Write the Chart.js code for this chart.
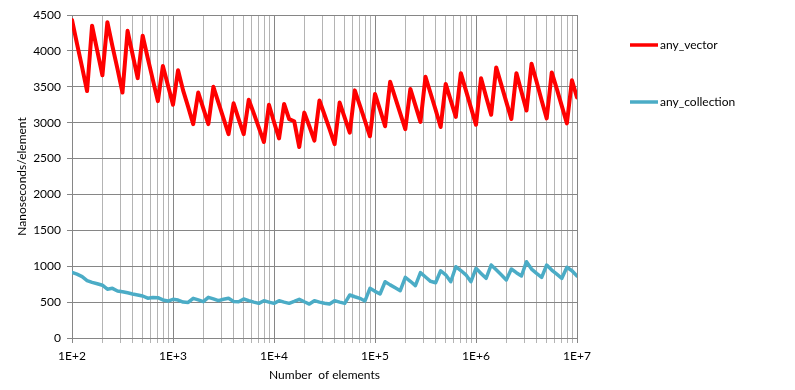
<!DOCTYPE html>
<html>
<head>
<meta charset="utf-8">
<script src="https://cdn.jsdelivr.net/npm/chart.js@4/dist/chart.umd.min.js"></script>
<style>
  html, body { margin: 0; padding: 0; background: #fff; }
  #wrap { width: 795px; height: 390px; position: relative; }
</style>
</head>
<body>
<div id="wrap"><canvas id="c" width="795" height="390"></canvas></div>
<script>
// Number of elements (x categories, 20 per decade)
const elements = [
  100,112,126,141,158,178,200,224,251,282,316,355,398,447,501,562,631,708,794,891,
  1000,1122,1259,1413,1585,1778,1995,2239,2512,2818,3162,3548,3981,4467,5012,5623,6310,7079,7943,8913,
  10000,11220,12589,14125,15849,17783,19953,22387,25119,28184,31623,35481,39811,44668,50119,56234,63096,70795,79433,89125,
  100000,112202,125893,141254,158489,177828,199526,223872,251189,281838,316228,354813,398107,446684,501187,562341,630957,707946,794328,891251,
  1000000,1122018,1258925,1412538,1584893,1778279,1995262,2238721,2511886,2818383,3162278,3548134,3981072,4466836,5011872,5623413,6309573,7079458,7943282,8912509,
  10000000
];

const anyVector = [
  4430,4100,3770,3440,4350,4000,3660,4400,4070,3750,3420,4280,3950,3620,4210,3900,3600,3300,3790,3520,
  3250,3730,3450,3220,2980,3420,3200,2980,3500,3280,3060,2840,3270,3050,2840,3320,3130,2930,2730,3250,
  3010,2780,3260,3050,3020,2660,3140,2950,2750,3310,3110,2910,2700,3280,3070,2860,3450,3240,3030,2810,
  3400,3180,2950,3570,3350,3130,2910,3470,3240,3010,3640,3410,3180,2940,3540,3310,3080,3690,3450,3210,
  2970,3620,3360,3110,3770,3530,3290,3050,3690,3430,3170,3820,3570,3310,3060,3700,3470,3230,2990,3590,
  3350
];

const anyCollection = [
  915,890,855,800,775,755,735,680,692,655,645,630,613,600,585,555,565,562,530,515,
  539,529,501,495,553,530,506,567,545,520,540,553,510,506,543,520,500,483,520,500,
  483,520,500,483,510,539,505,473,520,500,485,473,520,500,483,599,575,553,515,692,
  650,613,784,740,700,659,845,790,729,910,850,790,770,937,880,784,993,940,880,784,
  971,900,832,1017,950,880,808,961,910,864,1063,960,900,845,1017,947,890,832,985,937,
  864
];

const seriesNames = ['any_vector', 'any_collection'];
const seriesColors = ['#FF0000', '#4BACC6'];
const yTicks = [0,500,1000,1500,2000,2500,3000,3500,4000,4500];
const decades = [100, 1000, 10000, 100000, 1000000, 10000000];
const decadeLabels = ['1E+2','1E+3','1E+4','1E+5','1E+6','1E+7'];

const FONT = 'Lato';
Chart.defaults.font.family = FONT;
Chart.defaults.font.size = 12;
Chart.defaults.color = '#000';

const MAJOR = '#868686';
const MINOR = '#b4b4b4';

const sideLegend = {
  id: 'sideLegend',
  afterDraw(chart) {
    const ctx = chart.ctx;
    const ys = [45, 102];
    ctx.save();
    chart.data.datasets.forEach((ds, k) => {
      const y = ys[k];
      ctx.strokeStyle = ds.borderColor;
      ctx.lineWidth = 3.5;
      ctx.beginPath();
      ctx.moveTo(630, y);
      ctx.lineTo(658, y);
      ctx.stroke();
      ctx.fillStyle = '#000';
      ctx.font = '12px ' + FONT;
      ctx.textAlign = 'left';
      ctx.textBaseline = 'middle';
      ctx.fillText(ds.label, 660, y);
    });
    ctx.restore();
  }
};

const toPoints = arr => arr.map((v, i) => ({ x: elements[i], y: v }));

new Chart(document.getElementById('c'), {
  type: 'line',
  data: {
    datasets: [
      { label: seriesNames[0], data: toPoints(anyVector), borderColor: seriesColors[0], backgroundColor: seriesColors[0], borderWidth: 4, borderJoinStyle: 'round', borderCapStyle: 'round', pointRadius: 0, tension: 0 },
      { label: seriesNames[1], data: toPoints(anyCollection), borderColor: seriesColors[1], backgroundColor: seriesColors[1], borderWidth: 3.5, borderJoinStyle: 'round', borderCapStyle: 'round', pointRadius: 0, tension: 0 }
    ]
  },
  options: {
    responsive: false,
    animation: false,
    devicePixelRatio: 1,
    layout: { padding: { top: 15, right: 218, left: 0, bottom: 0 } },
    plugins: { legend: { display: false }, tooltip: { enabled: false } },
    scales: {
      x: {
        type: 'logarithmic',
        min: 100,
        max: 10000000,
        afterFit: s => { s.height = 52; },
        afterBuildTicks: s => {
          const t = [];
          for (let d = 0; d < decades.length - 1; d++) {
            for (let m = 1; m <= 9; m++) {
              t.push({ value: decades[d] * m, major: m === 1 });
            }
          }
          t.push({ value: decades[decades.length - 1], major: true });
          s.ticks = t;
        },
        ticks: {
          autoSkip: false,
          maxRotation: 0,
          minRotation: 0,
          padding: 6,
          color: '#000',
          font: { size: 12 },
          callback: function (value) {
            const k = decades.indexOf(value);
            return k >= 0 ? decadeLabels[k] : '';
          }
        },
        grid: {
          color: c => (c.tick && c.tick.major) ? MAJOR : MINOR,
          lineWidth: 1,
          tickLength: 5,
          drawTicks: true
        },
        border: { color: MAJOR, width: 1 },
        title: { display: true, text: 'Number  of elements', color: '#000', font: { size: 12 }, padding: { top: 0, bottom: 8 } }
      },
      y: {
        type: 'linear',
        min: 0,
        max: 4500,
        afterFit: s => { s.width = 72; },
        afterBuildTicks: s => { s.ticks = yTicks.map(v => ({ value: v })); },
        ticks: {
          padding: 6,
          color: '#000',
          font: { size: 12 },
          callback: v => String(v)
        },
        grid: { color: MAJOR, lineWidth: 1, tickLength: 5 },
        border: { color: MAJOR, width: 1 },
        title: { display: true, text: 'Nanoseconds/element', color: '#000', font: { size: 12 }, padding: { top: 15, bottom: 0 } }
      }
    }
  },
  plugins: [sideLegend]
});
</script>
</body>
</html>
